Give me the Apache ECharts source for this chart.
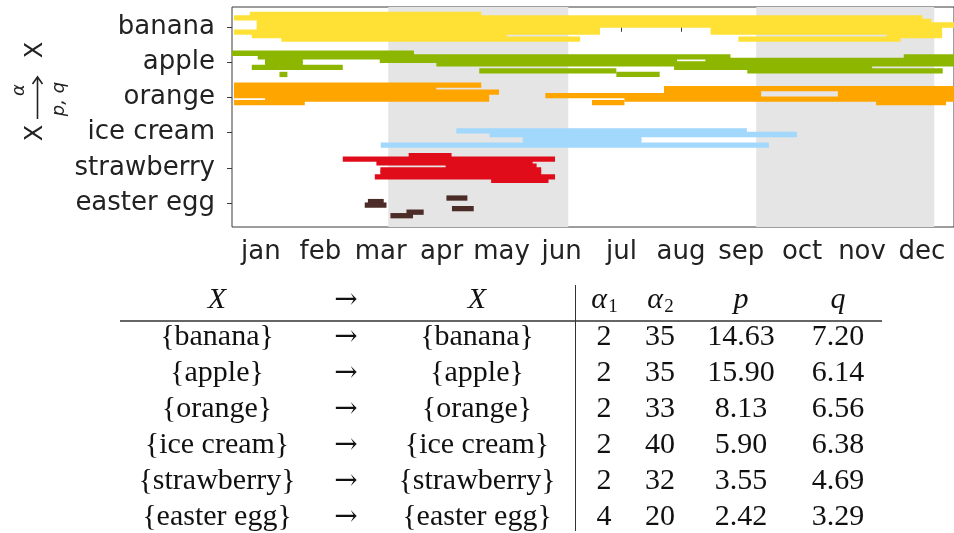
<!DOCTYPE html>
<html>
<head>
<meta charset="utf-8">
<script src="https://cdn.jsdelivr.net/npm/echarts@6/dist/echarts.min.js"></script>
<style>
  html, body { margin: 0; padding: 0; background: #fff; }
  #chart { width: 954px; height: 533px; }
</style>
</head>
<body>
<div id="chart"></div>
<script>
// categories, top to bottom
var categories = ['banana', 'apple', 'orange', 'ice cream', 'strawberry', 'easter egg'];
var colors = ['#ffe135', '#8db600', '#ffa500', '#a1d8fb', '#e00c19', '#4b2c26'];

// x axis is day of year, ticks sit mid-month
var monthLabels = ['jan', 'feb', 'mar', 'apr', 'may', 'jun', 'jul', 'aug', 'sep', 'oct', 'nov', 'dec'];
var monthTicks = [14.6, 44.7, 75.2, 106, 136.3, 166.6, 196.9, 227, 257.4, 288.2, 318.5, 348.8];

// shaded seasons (equinox -> solstice), in days
var seasonBands = [[79, 170], [265, 355]];

// spans: [start day, end day, lane (one lane per year, 0..7)]
var bananaSpans = [
  [9, 126, 0],
  [1, 349, 1],
  [12.5, 353.5, 2],
  [12.5, 365, 3],
  [12.5, 186, 4], [242, 359, 4],
  [1, 186, 5], [242, 359, 5],
  [10, 139, 6], [331, 359, 6],
  [25, 176, 7], [256, 338, 7]
];
var appleSpans = [
  [0, 92, 1],
  [13, 252, 2], [339.6, 365, 2],
  [16.7, 35.8, 3], [74.7, 225, 3], [239.3, 365, 3],
  [16.7, 35.8, 4], [103.3, 365, 4],
  [10, 56, 5], [223.5, 323.6, 5],
  [125, 194.3, 6], [260.5, 359.3, 6],
  [24, 28, 7], [194.3, 216.2, 7]
];
var orangeSpans = [
  [1, 126, 0],
  [1, 103.3, 1], [218.4, 365, 1],
  [1, 135, 2], [218.4, 267.5, 2], [306.3, 365, 2],
  [1, 130, 3], [158.4, 267.5, 3], [306.3, 365, 3],
  [16.7, 130, 4], [198.4, 365, 4],
  [1, 36.8, 5], [182, 198.4, 5], [325.6, 361, 5]
];
var iceCreamSpans = [
  [113.4, 260.3, 3],
  [130.2, 285.6, 4],
  [147, 207, 5],
  [147, 207, 6],
  [75.2, 271.4, 7]
];
var strawberrySpans = [
  [89.3, 111, 0],
  [56, 163.3, 1],
  [73, 152, 2],
  [108, 154, 3],
  [75, 156.3, 4],
  [75, 156.3, 5],
  [72.2, 163.3, 6],
  [131, 160, 7]
];
var easterEggSpans = [
  [108.4, 119, 2],
  [68.7, 76.7, 3],
  [67.1, 78.1, 4],
  [111.2, 122.2, 5],
  [88.2, 96.9, 6],
  [80.1, 91.5, 7]
];
var allSpans = [bananaSpans, appleSpans, orangeSpans, iceCreamSpans, strawberrySpans, easterEggSpans];

// table under the chart
var alpha1 = [2, 2, 2, 2, 2, 4];
var alpha2 = [35, 35, 33, 40, 32, 20];
var pValues = ['14.63', '15.90', '8.13', '5.90', '3.55', '2.42'];
var qValues = ['7.20', '6.14', '6.56', '6.38', '4.69', '3.29'];

var chart = echarts.init(document.getElementById('chart'));

var laneStep = 0.1, laneHeight = 0.15;

function renderSpan(params, api) {
  var mid = api.value(3) - 0.35 + api.value(2) * laneStep;
  var a = api.coord([api.value(0), mid - laneHeight / 2]);
  var b = api.coord([api.value(1), mid + laneHeight / 2]);
  return {
    type: 'rect',
    shape: { x: a[0], y: Math.min(a[1], b[1]), width: b[0] - a[0], height: Math.abs(b[1] - a[1]) },
    style: { fill: api.visual('color') }
  };
}

function renderBand(params, api) {
  var a = api.coord([api.value(0), 0]);
  var b = api.coord([api.value(1), 0]);
  var cs = params.coordSys;
  return {
    type: 'rect',
    shape: { x: a[0], y: cs.y, width: b[0] - a[0], height: cs.height },
    style: { fill: '#e5e5e5' }
  };
}

var series = [{
  type: 'custom',
  name: 'seasons',
  renderItem: renderBand,
  encode: { x: [0, 1], y: 2 },
  data: seasonBands.map(function (b) { return [b[0], b[1], 0]; }),
  silent: true,
  z: 1
}];
allSpans.forEach(function (spans, i) {
  series.push({
    type: 'custom',
    name: categories[i],
    renderItem: renderSpan,
    encode: { x: [0, 1], y: 3 },
    itemStyle: { color: colors[i] },
    data: spans.map(function (s) { return [s[0], s[1], s[2], i]; }),
    z: 2
  });
});

// table graphics
var serif = '"Liberation Serif", "DejaVu Serif", serif';
var arrowFont = '28px "DejaVu Serif", serif';
var colX = [217, 346, 477, 604, 660, 741, 838];
var headerY = 300, rowY0 = 337, rowStep = 36;

function txt(x, y, text, font) {
  return {
    type: 'text', x: x, y: y, silent: true,
    style: { text: text, font: font, fill: '#111', textAlign: 'center', textVerticalAlign: 'middle', align: 'center', verticalAlign: 'middle' }
  };
}

var graphics = [];
graphics.push(txt(colX[0], headerY, 'X', 'italic 30px ' + serif));
graphics.push(txt(colX[1], headerY + 1, '\u2192', arrowFont));
graphics.push(txt(colX[2], headerY, 'X', 'italic 30px ' + serif));
graphics.push(txt(colX[3] - 5, headerY, '\u03b1', 'italic 30px ' + serif));
graphics.push(txt(colX[3] + 9, headerY + 7, '1', '19px ' + serif));
graphics.push(txt(colX[4] - 5, headerY, '\u03b1', 'italic 30px ' + serif));
graphics.push(txt(colX[4] + 9, headerY + 7, '2', '19px ' + serif));
graphics.push(txt(colX[5], headerY, 'p', 'italic 30px ' + serif));
graphics.push(txt(colX[6], headerY, 'q', 'italic 30px ' + serif));
categories.forEach(function (c, i) {
  var y = rowY0 + i * rowStep;
  var f = '30px ' + serif;
  graphics.push(txt(colX[0], y, '{' + c + '}', f));
  graphics.push(txt(colX[1], y + 1, '\u2192', arrowFont));
  graphics.push(txt(colX[2], y, '{' + c + '}', f));
  graphics.push(txt(colX[3], y, String(alpha1[i]), f));
  graphics.push(txt(colX[4], y, String(alpha2[i]), f));
  graphics.push(txt(colX[5], y, pValues[i], f));
  graphics.push(txt(colX[6], y, qValues[i], f));
});
graphics.push({
  type: 'line', silent: true,
  shape: { x1: 120, y1: 321, x2: 882, y2: 321 },
  style: { stroke: '#333', lineWidth: 1.5 }
});
graphics.push({
  type: 'line', silent: true,
  shape: { x1: 575.5, y1: 285, x2: 575.5, y2: 531 },
  style: { stroke: '#333', lineWidth: 1 }
});

// rotated y axis name: X --(alpha / p,q)--> X
var sans = '"DejaVu Sans", sans-serif';
function rtxt(x, y, text, font) {
  var t = txt(x, y, text, font);
  t.rotation = Math.PI / 2;
  t.style.fill = '#222';
  return t;
}
graphics.push(rtxt(36, 133, 'X', '24px ' + sans));
graphics.push(rtxt(36, 50, 'X', '24px ' + sans));
graphics.push(rtxt(19, 90, '\u03b1', 'italic 18px ' + sans));
graphics.push(rtxt(59, 99, 'p, q', 'italic 18px ' + sans));
// the arrow between the two X
graphics.push({
  type: 'line', silent: true,
  shape: { x1: 37.5, y1: 119, x2: 37.5, y2: 78 },
  style: { stroke: '#222', lineWidth: 1.6 }
});
graphics.push({
  type: 'polyline', silent: true,
  shape: { points: [[32.5, 84], [37.5, 77], [42.5, 84]] },
  style: { stroke: '#222', lineWidth: 1.6, fill: null }
});

var option = {
  animation: false,
  backgroundColor: '#fff',
  grid: {
    left: 232, top: 7, right: -1, bottom: 306,
    show: true, borderColor: '#3a3a3a', borderWidth: 1, backgroundColor: 'transparent'
  },
  xAxis: {
    type: 'value', min: 0, max: 365,
    axisLine: { show: false },
    splitLine: { show: false },
    axisTick: { show: true, length: 5, lineStyle: { color: '#3a3a3a' }, customValues: monthTicks },
    axisLabel: {
      customValues: monthTicks,
      formatter: function (v) {
        var best = 0;
        monthTicks.forEach(function (t, i) { if (Math.abs(t - v) < Math.abs(monthTicks[best] - v)) best = i; });
        return monthLabels[best];
      },
      fontFamily: 'DejaVu Sans', fontSize: 26, color: '#222', margin: 12
    }
  },
  yAxis: {
    type: 'value', inverse: true, min: -0.56, max: 5.67,
    axisLine: { show: false },
    splitLine: { show: false },
    axisTick: { show: true, length: 5, lineStyle: { color: '#3a3a3a' }, customValues: categories.map(function (c, i) { return i; }) },
    axisLabel: {
      customValues: categories.map(function (c, i) { return i; }),
      formatter: function (v) { return categories[Math.round(v)]; },
      fontFamily: 'DejaVu Sans', fontSize: 26, color: '#222', margin: 17,
      padding: [6, 0, 0, 0]
    }
  },
  series: series,
  graphic: graphics
};

chart.setOption(option);
</script>
</body>
</html>
